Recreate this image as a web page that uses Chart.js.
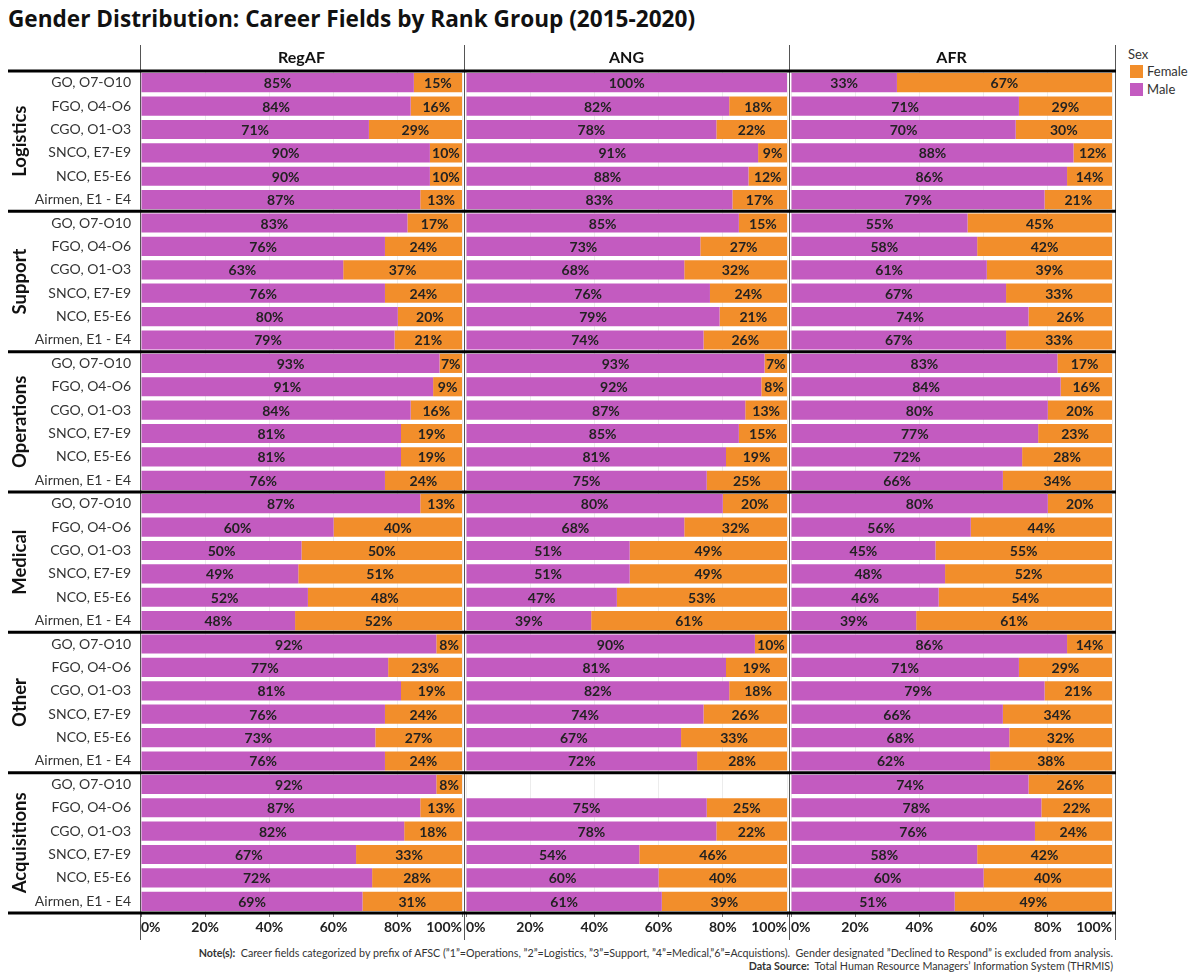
<!DOCTYPE html>
<html>
<head>
<meta charset="utf-8">
<script src="https://cdn.jsdelivr.net/npm/chart.js@4"></script>
<style>
  body { margin: 0; background: #fff; font-family: Lato, 'Open Sans', sans-serif; }
  #wrap { position: relative; width: 1196px; height: 973px; }
  #title { position: absolute; left: 8px; top: 3px; font-family: 'Open Sans', sans-serif; font-size: 22.6px; font-weight: bold; color: #111; white-space: nowrap; }
  canvas { position: absolute; top: 44px; }
  .leg { position: absolute; font-size: 13px; color: #333; }
  .sw { position: absolute; width: 13px; height: 13px; }
  .foot { position: absolute; right: 83px; font-size: 10.7px; color: #333; white-space: nowrap; }
</style>
</head>
<body>
<div id="wrap">
  <div id="title">Gender Distribution: Career Fields by Rank Group (2015-2020)</div>
  <canvas id="c0" width="464" height="898" style="left:0px"></canvas>
  <canvas id="c1" width="325" height="898" style="left:464px"></canvas>
  <canvas id="c2" width="328" height="898" style="left:789px"></canvas>
  <div class="leg" style="left:1128px; top:46px;">Sex</div>
  <div class="sw" style="left:1130px; top:65px; background:#f28e2b"></div>
  <div class="leg" style="left:1147px; top:63px;">Female</div>
  <div class="sw" style="left:1130px; top:83px; background:#c35bc0"></div>
  <div class="leg" style="left:1147px; top:81px;">Male</div>
  <div class="foot" style="top:946px;"><b>Note(s):</b>&nbsp; Career fields categorized by prefix of AFSC (”1”=Operations, ”2”=Logistics, ”3”=Support, ”4”=Medical,”6”=Acquistions).&nbsp; Gender designated ”Declined to Respond” is excluded from analysis.</div>
  <div class="foot" style="top:959px;"><b>Data Source:</b>&nbsp; Total Human Resource Managers’ Information System (THRMIS)</div>
</div>
<script>
const components = ['RegAF', 'ANG', 'AFR'];
const groups = ['Logistics', 'Support', 'Operations', 'Medical', 'Other', 'Acquisitions'];
const ranks = ['GO, O7-O10', 'FGO, O4-O6', 'CGO, O1-O3', 'SNCO, E7-E9', 'NCO, E5-E6', 'Airmen, E1 - E4'];
const xTicks = [0, 20, 40, 60, 80, 100];

// male / female share (%) per row, 6 ranks x 6 groups in the order above
const regafMale = [85, 84, 71, 90, 90, 87,  83, 76, 63, 76, 80, 79,  93, 91, 84, 81, 81, 76,
                   87, 60, 50, 49, 52, 48,  92, 77, 81, 76, 73, 76,  92, 87, 82, 67, 72, 69];
const regafFemale = [15, 16, 29, 10, 10, 13,  17, 24, 37, 24, 20, 21,  7, 9, 16, 19, 19, 24,
                     13, 40, 50, 51, 48, 52,  8, 23, 19, 24, 27, 24,  8, 13, 18, 33, 28, 31];
const angMale = [100, 82, 78, 91, 88, 83,  85, 73, 68, 76, 79, 74,  93, 92, 87, 85, 81, 75,
                 80, 68, 51, 51, 47, 39,  90, 81, 82, 74, 67, 72,  null, 75, 78, 54, 60, 61];
const angFemale = [0, 18, 22, 9, 12, 17,  15, 27, 32, 24, 21, 26,  7, 8, 13, 15, 19, 25,
                   20, 32, 49, 49, 53, 61,  10, 19, 18, 26, 33, 28,  null, 25, 22, 46, 40, 39];
const afrMale = [33, 71, 70, 88, 86, 79,  55, 58, 61, 67, 74, 67,  83, 84, 80, 77, 72, 66,
                 80, 56, 45, 48, 46, 39,  86, 71, 79, 66, 68, 62,  74, 78, 76, 58, 60, 51];
const afrFemale = [67, 29, 30, 12, 14, 21,  45, 42, 39, 33, 26, 33,  17, 16, 20, 23, 28, 34,
                   20, 44, 55, 52, 54, 61,  14, 29, 21, 34, 32, 38,  26, 22, 24, 42, 40, 49];

const MALE = '#c35bc0';
const FEMALE = '#f28e2b';
const FONT = 'Lato';
Chart.defaults.font.family = FONT;

const rowLabels = [];
groups.forEach(() => ranks.forEach(r => rowLabels.push(r)));

const series = [[regafMale, regafFemale], [angMale, angFemale], [afrMale, afrFemale]];

// header, frame lines and group separators
const framePlugin = {
  id: 'frame',
  afterDraw(chart) {
    const ctx = chart.ctx;
    const a = chart.chartArea;
    const idx = chart.options.panelIndex;
    const W = chart.width, H = chart.height;
    ctx.save();
    // column header
    ctx.fillStyle = '#111';
    ctx.font = 'bold 16px ' + FONT;
    ctx.textAlign = 'center';
    ctx.textBaseline = 'middle';
    ctx.fillText(components[idx], (a.left + a.right) / 2, 14);
    // vertical lines
    ctx.strokeStyle = '#555';
    ctx.lineWidth = 1;
    ctx.beginPath();
    if (idx === 0) { ctx.moveTo(140.5, 1); ctx.lineTo(140.5, H - 2); }
    else { ctx.moveTo(0.5, 1); ctx.lineTo(0.5, H - 2); }
    if (idx === 2) { ctx.moveTo(W - 1.5, 1); ctx.lineTo(W - 1.5, H - 2); }
    ctx.stroke();
    // thick separators between groups
    ctx.strokeStyle = '#000';
    ctx.lineWidth = 3;
    const step = (a.bottom - a.top) / groups.length;
    const x0 = idx === 0 ? 8 : 0;
    const x1 = idx === 2 ? W - 1 : W;
    for (let g = 0; g <= groups.length; g++) {
      const y = a.top + g * step;
      ctx.beginPath();
      ctx.moveTo(x0, y);
      ctx.lineTo(x1, y);
      ctx.stroke();
    }
    // group labels
    if (idx === 0) {
      const ys = chart.scales.y;
      ctx.fillStyle = '#111';
      ctx.font = 'bold 18.5px ' + FONT;
      groups.forEach((g, i) => {
        const yc = (ys.getPixelForValue(i * 6) + ys.getPixelForValue(i * 6 + 5)) / 2;
        ctx.save();
        ctx.translate(20, yc);
        ctx.rotate(-Math.PI / 2);
        ctx.fillText(g, 0, 0);
        ctx.restore();
      });
    }
    ctx.restore();
  }
};

// percentage labels centred on each segment
const labelPlugin = {
  id: 'segLabels',
  afterDatasetsDraw(chart) {
    const ctx = chart.ctx;
    ctx.save();
    ctx.font = 'bold 14px ' + FONT;
    ctx.fillStyle = '#222';
    ctx.textAlign = 'center';
    ctx.textBaseline = 'middle';
    chart.data.datasets.forEach((ds, di) => {
      chart.getDatasetMeta(di).data.forEach((bar, i) => {
        const v = ds.data[i];
        if (v == null || v === 0) return;
        ctx.fillText(v + '%', (bar.x + bar.base) / 2, bar.y + 1);
      });
    });
    ctx.restore();
  }
};

const pads = [{left: 0, right: 2}, {left: 2, right: 2}, {left: 2, right: 5}];

series.forEach((s, idx) => {
  new Chart(document.getElementById('c' + idx), {
    type: 'bar',
    data: {
      labels: rowLabels,
      datasets: [
        {label: 'Male', data: s[0], backgroundColor: MALE, stack: 'sex', barPercentage: 1, categoryPercentage: 0.82},
        {label: 'Female', data: s[1], backgroundColor: FEMALE, stack: 'sex', barPercentage: 1, categoryPercentage: 0.82}
      ]
    },
    options: {
      panelIndex: idx,
      indexAxis: 'y',
      responsive: false,
      animation: false,
      layout: {padding: {top: 27, bottom: 0, left: pads[idx].left, right: pads[idx].right}},
      plugins: {legend: {display: false}, tooltip: {enabled: false}},
      scales: {
        x: {
          stacked: true, min: 0, max: 100,
          afterBuildTicks: sc => { sc.ticks = xTicks.map(v => ({value: v})); },
          ticks: {callback: v => v + '%', align: 'inner', maxRotation: 0, font: {size: 14, weight: 'bold'}, color: '#222', padding: 2},
          grid: {color: '#ececec', tickColor: '#777', tickLength: 4},
          border: {display: false},
          afterFit: sc => { sc.height = 29; }
        },
        y: {
          display: idx === 0,
          stacked: true,
          ticks: {autoSkip: false, font: {size: 14}, color: '#333', padding: 2},
          grid: {display: false},
          border: {display: false},
          afterFit: sc => { sc.width = idx === 0 ? 141 : 0; }
        }
      }
    },
    plugins: [framePlugin, labelPlugin]
  });
});
</script>
</body>
</html>
